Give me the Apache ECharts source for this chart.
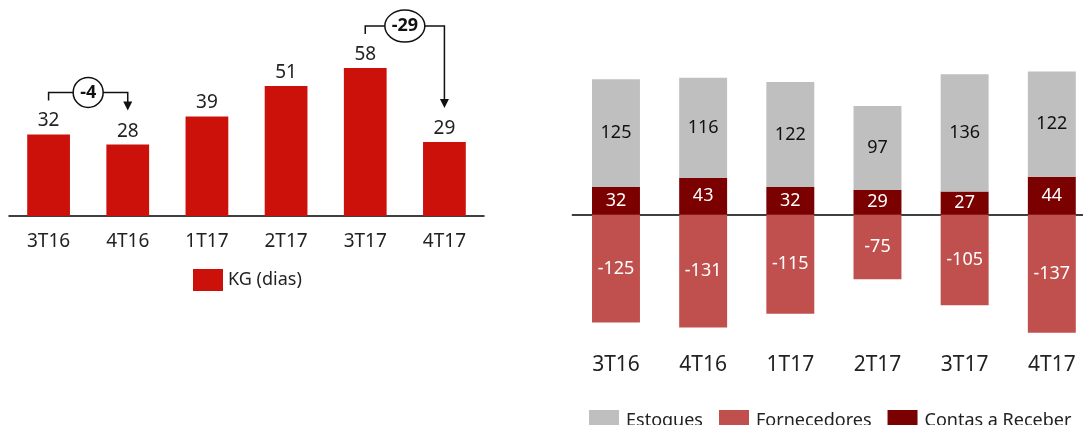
<!DOCTYPE html>
<html>
<head>
    <meta charset="utf-8">
    <title>KG</title>
    <script src="https://cdn.jsdelivr.net/npm/echarts@6/dist/echarts.min.js"></script>
    <style>
        html, body { margin: 0; padding: 0; background: #fff; overflow: hidden; }
    </style>
</head>
<body>
<!-- um pouco mais largo que a janela: o último par de barras é cortado na borda -->
<div id="main" style="width: 1100px;height:425px;"></div>

<script type="text/javascript">
    // dados
    var trimestres = ['3T16', '4T16', '1T17', '2T17', '3T17', '4T17'];
    var kg = [32, 28, 39, 51, 58, 29];
    var estoques = [125, 116, 122, 97, 136, 122];
    var fornecedores = [-125, -131, -115, -75, -105, -137];
    var contas = [32, 43, 32, 29, 27, 44];
    // variações destacadas: [de, para]
    var variacoes = [[0, 1], [4, 5]];

    var fonte = 'Noto Sans';

    var myChart = echarts.init(document.getElementById('main'));

    var option = {
        animation: false,
        textStyle: { fontFamily: fonte },
        grid: [
            { left: 9, width: 475, top: 12, height: 204 },
            { left: 572.4, width: 523, top: 42.3, height: 310.3 }
        ],
        legend: [
            {
                data: ['KG (dias)'],
                icon: 'rect',
                left: 188, top: 264,
                itemWidth: 30, itemHeight: 22, itemGap: 10,
                textStyle: { fontFamily: fonte, fontSize: 18, color: '#222' }
            },
            {
                data: ['Estoques', 'Fornecedores', 'Contas a Receber'],
                icon: 'rect',
                left: 584, top: 405,
                itemWidth: 30, itemHeight: 22, itemGap: 16,
                textStyle: { fontFamily: fonte, fontSize: 18, color: '#222', padding: [0, 0, 0, 2] }
            }
        ],
        xAxis: [
            {
                type: 'category', gridIndex: 0, data: trimestres,
                axisLine: { lineStyle: { color: '#000', width: 1.5 } },
                axisTick: { show: false },
                axisLabel: { fontSize: 19, color: '#222', margin: 16, fontFamily: fonte }
            },
            {
                type: 'category', gridIndex: 1, data: trimestres,
                axisLine: { onZero: true, lineStyle: { color: '#000', width: 1.5 } },
                axisTick: { show: false },
                axisLabel: { show: false }
            },
            {
                type: 'category', gridIndex: 1, data: trimestres, position: 'bottom',
                axisLine: { show: false, onZero: false },
                axisTick: { show: false },
                axisLabel: { fontSize: 21, color: '#222', margin: 2, fontFamily: fonte }
            }
        ],
        yAxis: [
            { type: 'value', gridIndex: 0, min: 0, max: 80, show: false },
            { type: 'value', gridIndex: 1, min: -160, max: 200, show: false }
        ],
        series: [
            {
                name: 'KG (dias)', type: 'bar', xAxisIndex: 0, yAxisIndex: 0,
                data: kg, barWidth: '54%',
                itemStyle: { color: '#CC110B' },
                label: { show: true, position: 'top', distance: 4, fontSize: 19, color: '#222', fontFamily: fonte }
            },
            {
                name: 'Contas a Receber', type: 'bar', xAxisIndex: 1, yAxisIndex: 1,
                stack: 'wc', data: contas, barWidth: '55%',
                itemStyle: { color: '#7B0000' },
                label: { show: true, position: 'inside', fontSize: 18, color: '#fff', fontFamily: fonte }
            },
            {
                name: 'Estoques', type: 'bar', xAxisIndex: 1, yAxisIndex: 1,
                stack: 'wc', data: estoques, barWidth: '55%',
                itemStyle: { color: '#BFBFBF' },
                label: { show: true, position: 'inside', fontSize: 18, color: '#111', fontFamily: fonte }
            },
            {
                name: 'Fornecedores', type: 'bar', xAxisIndex: 1, yAxisIndex: 1,
                stack: 'wc', data: fornecedores, barWidth: '55%',
                itemStyle: { color: '#C0504D' },
                label: { show: true, position: 'inside', fontSize: 18, color: '#fff', fontFamily: fonte }
            }
        ]
    };

    myChart.setOption(option);

    // setas de variação, posicionadas pelas escalas do gráfico
    var graficos = [];
    variacoes.forEach(function (v) {
        var a = myChart.convertToPixel({ gridIndex: 0 }, [v[0], kg[v[0]]]);
        var b = myChart.convertToPixel({ gridIndex: 0 }, [v[1], kg[v[1]]]);
        var yA = a[1] - 34;
        var yB = b[1] - 34;
        var yTopo = Math.min(yA, yB) - 8;
        var xm = (a[0] + b[0]) / 2;
        var txt = String(kg[v[1]] - kg[v[0]]);
        var rx = txt.length > 2 ? 20 : 15;
        var ry = txt.length > 2 ? 16 : 15;
        var traco = { stroke: '#111', lineWidth: 1.5, fill: null };
        graficos.push({
            type: 'polyline', z: 10,
            shape: { points: [[a[0], yA], [a[0], yTopo], [b[0], yTopo], [b[0], yB - 8]] },
            style: traco
        });
        graficos.push({
            type: 'polygon', z: 10,
            shape: { points: [[b[0] - 4.5, yB - 9], [b[0] + 4.5, yB - 9], [b[0], yB]] },
            style: { fill: '#111' }
        });
        graficos.push({
            type: 'ellipse', z: 11,
            shape: { cx: xm, cy: yTopo, rx: rx, ry: ry },
            style: { fill: '#fff', stroke: '#111', lineWidth: 1.5 }
        });
        graficos.push({
            type: 'text', z: 12, x: xm, y: yTopo,
            style: {
                text: txt, fill: '#111', fontFamily: fonte, fontWeight: 'bold', fontSize: 18,
                align: 'center', verticalAlign: 'middle'
            }
        });
    });
    myChart.setOption({ graphic: graficos });
</script>
</body>
</html>
